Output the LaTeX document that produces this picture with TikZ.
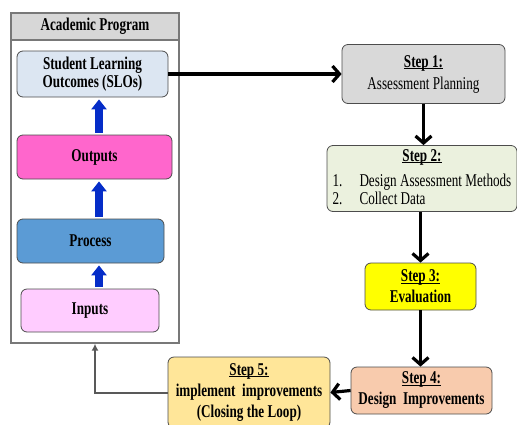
\documentclass[tikz,border=0pt]{standalone}
\usepackage{fontspec}
\setmainfont[FakeStretch=0.73]{Liberation Serif}
\usetikzlibrary{arrows.meta,positioning}

\definecolor{progline}{RGB}{120,120,120}
\definecolor{headgray}{RGB}{215,215,215}
\definecolor{sloblue}{RGB}{220,230,242}
\definecolor{outpink}{RGB}{255,102,204}
\definecolor{procblue}{RGB}{91,155,213}
\definecolor{inpink}{RGB}{255,204,255}
\definecolor{upblue}{RGB}{5,45,200}
\definecolor{steponegray}{RGB}{217,217,217}
\definecolor{steptwogreen}{RGB}{235,241,222}
\definecolor{stepthreeyellow}{RGB}{255,255,0}
\definecolor{stepfoursalmon}{RGB}{248,203,173}
\definecolor{stepfivegold}{RGB}{255,230,153}

% underline that sits just under the baseline
\newcommand{\stepul}[1]{\setbox0\hbox{#1}\rlap{\rule[-1.6pt]{\wd0}{0.9pt}}\box0}

\begin{document}
\begin{tikzpicture}[x=1pt,y=-1pt,>=Latex,
  box/.style={draw=black!70,line width=0.8pt,rounded corners=6pt,inner sep=1pt,
    align=center,font=\fontsize{18}{21}\selectfont},
  bbox/.style={box,font=\bfseries\fontsize{18}{21}\selectfont},
  flow/.style={-{Straight Barb[length=7pt,width=16pt]},line width=3.2pt},
  up/.style={-{Triangle[length=10pt,width=15pt]},line width=7.5pt,draw=upblue,
    shorten <=2pt,shorten >=2pt},
  back/.style={-{Latex[length=7pt,width=7pt]},line width=2pt,draw=black!65}]
  \useasboundingbox (0,0) rectangle (517,424);

  % academic program frame
  \node[draw=progline,line width=1.3pt,minimum width=168pt,minimum height=330pt] (prog) at (95,178) {};
  \node[draw=progline,fill=headgray,line width=1.3pt,minimum width=168pt,minimum height=27pt,
    font=\bfseries\fontsize{18}{20}\selectfont] (head) at (95,26.5) {Academic Program};

  \node[bbox,fill=sloblue,minimum width=151pt,minimum height=46pt,font=\bfseries\fontsize{18}{16}\selectfont]
    (slo) at (92.5,74) {Student Learning\\Outcomes (SLOs)};
  \node[bbox,fill=outpink,minimum width=155pt,minimum height=44pt] (outputs) at (94.5,157) {Outputs};
  \node[bbox,fill=procblue,minimum width=147pt,minimum height=44pt] (process) at (90.5,241) {Process};
  \node[bbox,fill=inpink,minimum width=138pt,minimum height=43pt] (inputs) at (90,310.5) {Inputs};

  \coordinate (upx) at (99,0);
  \draw[up] (inputs.north -| upx) -- (process.south -| upx);
  \draw[up] (process.north -| upx) -- (outputs.south -| upx);
  \draw[up] (outputs.north -| upx) -- (slo.south -| upx);

  % assessment steps
  \node[box,fill=steponegray,minimum width=163pt,minimum height=59pt] (step1) at (423.5,74)
    {\stepul{\textbf{Step 1:}}\\[1pt]Assessment Planning};
  \node[box,fill=steptwogreen,minimum width=190pt,minimum height=65pt] (step2) at (422,178.5)
    {\begin{tabular}{@{}l@{\hspace{17pt}}l@{}}
       \multicolumn{2}{c}{\stepul{\textbf{Step 2:}}}\\[4pt]
       1. & Design Assessment Methods\\[-3pt]
       2. & Collect Data
     \end{tabular}};
  \node[bbox,fill=stepthreeyellow,minimum width=111pt,minimum height=47pt]
    (step3) at (420.5,286.5) {\stepul{Step 3:}\\Evaluation};
  \node[bbox,fill=stepfoursalmon,minimum width=141pt,minimum height=47pt]
    (step4) at (421.5,390.5) {\stepul{Step 4:}\\Design\ \ Improvements};
  \node[bbox,fill=stepfivegold,minimum width=162pt,minimum height=71pt]
    (step5) at (249,392.5) {\stepul{Step 5:}\\implement\ \ improvements\\(Closing the Loop)};

  \draw[flow] (slo.east) -- (step1.west);
  \draw[flow] (step1.south) -- (step1.south |- step2.north);
  \draw[flow] (step2.south -| step3.north) -- (step3.north);
  \draw[flow] (step3.south) -- (step3.south |- step4.north);
  \draw[flow] (step4.west) -- (step5.east);
  \draw[back] (step5.west) -| (prog.south);
\end{tikzpicture}
\end{document}
